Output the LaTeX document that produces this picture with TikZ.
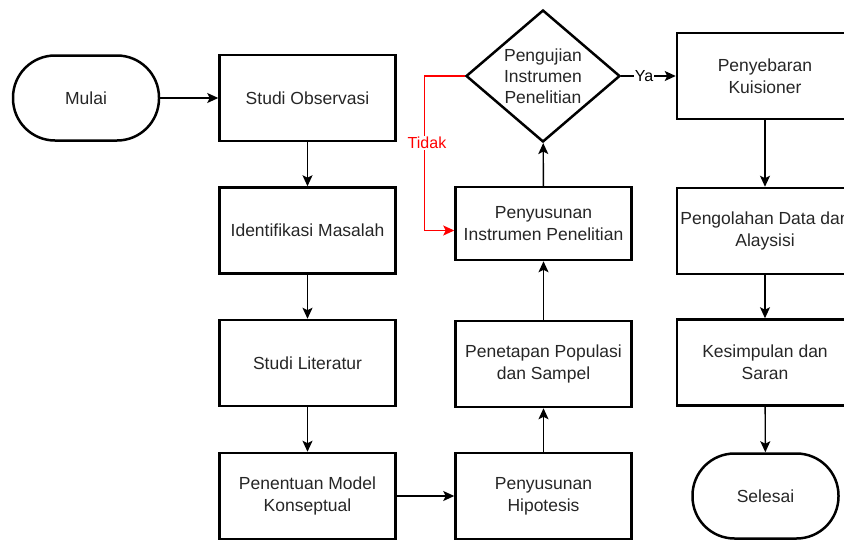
\documentclass[tikz,border=0pt]{standalone}
\usepackage{fontspec}
\setmainfont{Liberation Sans}
\usetikzlibrary{shapes.geometric,arrows.meta}
\begin{document}
\begin{tikzpicture}[x=1pt,y=-1pt,
  txt/.style={font=\fontsize{17.5}{22}\selectfont, text=black!85, align=center},
  proc/.style={txt, draw, line width=2.5pt, minimum width=176pt, minimum height=86pt, inner sep=2pt},
  term/.style={txt, draw, line width=2.5pt, minimum width=146pt, minimum height=85pt, rounded corners=42pt, inner sep=2pt},
  decision/.style={draw, diamond, line width=2.5pt, minimum width=154pt, minimum height=132pt, aspect=1.16, inner sep=0pt},
  arr/.style={draw=black, line width=1.4pt, -{Stealth[length=11pt,width=10pt,inset=2.5pt]}},
  lbl/.style={font=\fontsize{16}{18}\selectfont, fill=white, inner sep=1pt}
]
\useasboundingbox (0,0) rectangle (844,539);
\clip (0,0) rectangle (844,539);

% column 0/1
\node[term] (mulai) at (86,98) {Mulai};
\node[proc] (obs) at (307.5,98) {Studi Observasi};
\node[proc] (idm) at (307.5,230.5) {Identifikasi Masalah};
\node[proc] (lit) at (307.5,363) {Studi Literatur};
\node[proc] (pmk) at (307.5,496) {Penentuan Model\\Konseptual};

% column 2
\node[proc] (hip) at (543.5,496) {Penyusunan\\Hipotesis};
\node[proc] (pop) at (543.5,364) {Penetapan Populasi\\dan Sampel};
\node[proc, minimum height=73pt] (pin) at (543.5,223.5) {Penyusunan\\Instrumen Penelitian};
\node[decision, label={[txt, font=\fontsize{17.5}{21}\selectfont]center:Pengujian\\Instrumen\\Penelitian}] (uji) at (543,76) {};

% column 3
\node[proc] (keb) at (765,76) {Penyebaran\\Kuisioner};
\node[proc] (olah) at (765,231) {Pengolahan Data dan\\Alaysisi};
\node[proc] (kes) at (765,362.5) {Kesimpulan dan\\Saran};
\node[term] (sel) at (765.5,496) {Selesai};

% connectors
\draw[arr] (mulai) -- (obs);
\draw[arr] (obs) -- (idm);
\draw[arr] (idm) -- (lit);
\draw[arr] (lit) -- (pmk);
\draw[arr] (pmk) -- (hip);
\draw[arr] (hip) -- (pop);
\draw[arr] (pop) -- (pin);
\draw[arr] (pin) -- (uji);
\draw[arr] (uji.east) -- node[lbl, pos=0.42] (ya) {Ya} (keb.west);
\draw[arr] (keb) -- (olah);
\draw[arr] (olah) -- (kes);
\draw[arr] (kes) -- (sel);
\draw[arr, draw=red, color=red] (uji.west) -- ++(-40,0) coordinate (bend)
  |- ([yshift=-7pt]pin.west);
\node[lbl, text=red] (tidak) at (427,143) {Tidak};
\end{tikzpicture}
\end{document}
